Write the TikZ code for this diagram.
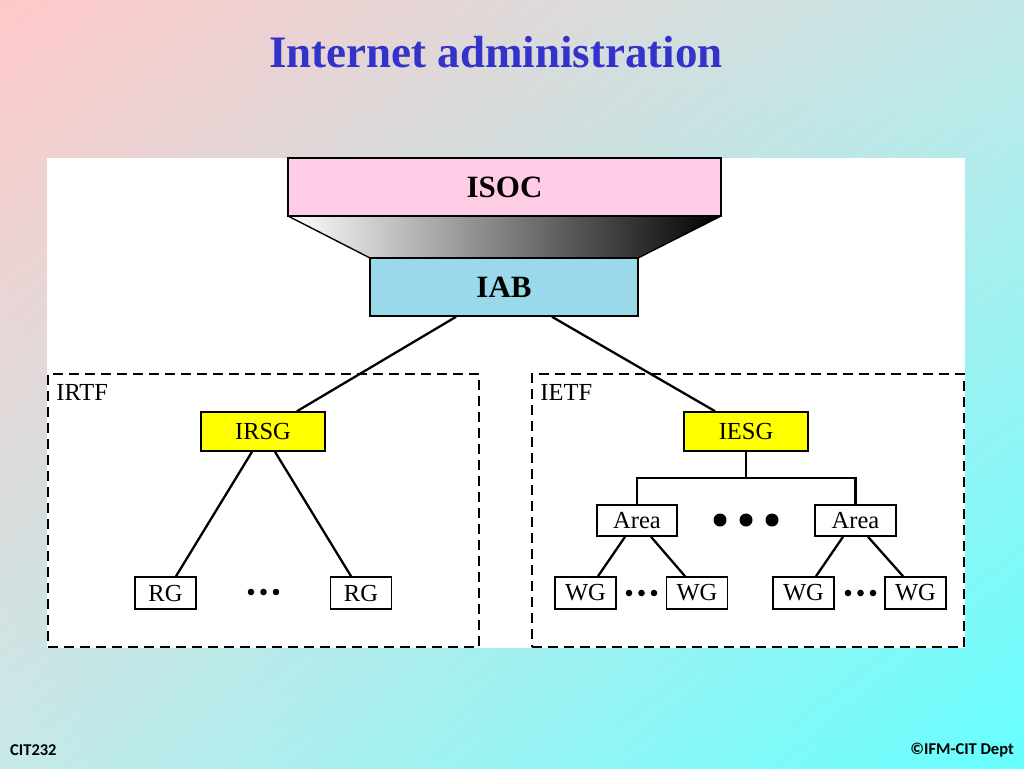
\documentclass[tikz,border=0pt]{standalone}
\usepackage{fontspec}
\usetikzlibrary{shadings}
\setmainfont{Liberation Serif}
\newfontfamily\footfont{Carlito}
\begin{document}
\begin{tikzpicture}[x=1pt,y=-1pt,
  box/.style={draw=black,line width=1.6pt,inner sep=0pt,font=\fontsize{24.5}{24.5}\selectfont},
  bigbox/.style={draw=black,line width=1.6pt,inner sep=0pt,font=\fontsize{31}{31}\selectfont\bfseries},
  conn/.style={line width=2.3pt,black},
  dashbox/.style={draw=black,line width=1.6pt,dash pattern=on 10pt off 6pt,inner sep=0pt},
  grplabel/.style={anchor=north west,inner sep=0pt,font=\fontsize{24.5}{24.5}\selectfont},
]
\definecolor{bgtl}{RGB}{255,200,200}
\definecolor{bgtr}{RGB}{195,232,232}
\definecolor{bgbl}{RGB}{200,232,232}
\definecolor{bgbr}{RGB}{102,255,255}
\definecolor{titleblue}{RGB}{51,51,204}
\definecolor{isocpink}{RGB}{255,204,230}
\definecolor{iabblue}{RGB}{153,217,234}
\definecolor{ylw}{RGB}{255,255,0}
\useasboundingbox (0,0) rectangle (1024,768);
\shade[upper left=bgtl,upper right=bgtr,lower left=bgbl,lower right=bgbr] (0,0) rectangle (1024,768);
% title
\node[text=titleblue,font=\fontsize{45}{45}\selectfont\bfseries] (title) at (496,52) {Internet administration};
% white panel
\fill[white] (47,158) rectangle (965,648);
% gradient trapezoid
\shade[left color=white,right color=black] (288,216) -- (721,216) -- (638,258) -- (370,258) -- cycle;
\draw[line width=1.4pt] (288,216) -- (370,258);
\draw[line width=1.4pt] (721,216) -- (638,258);
% top boxes
\node[bigbox,fill=isocpink,minimum width=433pt,minimum height=58pt] (ISOC) at (504.5,187) {ISOC};
\node[bigbox,fill=iabblue,minimum width=268pt,minimum height=58pt] (IAB) at (504,287) {IAB};
% groups
\node[dashbox,minimum width=431pt,minimum height=273pt] (IRTF) at (263.5,510.5) {};
\node[grplabel] (IRTFl) at ([xshift=9pt,yshift=-11pt]IRTF.north west) {IRTF};
\node[dashbox,minimum width=432pt,minimum height=273pt] (IETF) at (748,510.5) {};
\node[grplabel] (IETFl) at ([xshift=9pt,yshift=-11pt]IETF.north west) {IETF};
% second level
\node[box,fill=ylw,minimum width=124pt,minimum height=39pt] (IRSG) at (263,431.5) {IRSG};
\node[box,fill=ylw,minimum width=124pt,minimum height=39pt] (IESG) at (746,431.5) {IESG};
% RG
\node[box,fill=white,minimum width=61pt,minimum height=32pt] (RG1) at (165.5,593) {RG};
\node[box,fill=white,minimum width=61pt,minimum height=32pt] (RG2) at (361,593) {RG};
% Areas
\node[box,fill=white,minimum width=80pt,minimum height=31pt] (A1) at (637,520.5) {Area};
\node[box,fill=white,minimum width=81pt,minimum height=31pt] (A2) at (855.5,520.5) {Area};
% WGs
\node[box,fill=white,minimum width=61pt,minimum height=32pt] (WG1) at (585.5,593) {WG};
\node[box,fill=white,minimum width=61pt,minimum height=32pt] (WG2) at (697,593) {WG};
\node[box,fill=white,minimum width=61pt,minimum height=32pt] (WG3) at (803.5,593) {WG};
\node[box,fill=white,minimum width=61pt,minimum height=32pt] (WG4) at (915.5,593) {WG};
% connectors
\draw[conn] ([xshift=-48pt]IAB.south) -- ([xshift=34pt]IRSG.north);
\draw[conn] ([xshift=48pt]IAB.south) -- ([xshift=-31pt]IESG.north);
\draw[conn] ([xshift=-11pt]IRSG.south) -- ([xshift=10.5pt]RG1.north);
\draw[conn] ([xshift=12pt]IRSG.south) -- ([xshift=-10pt]RG2.north);
\coordinate (bus) at (746,478);
\draw[conn] (IESG.south) -- (bus);
\draw[conn] (A1.north) |- (bus) -| (A2.north);
\draw[conn] ([xshift=-12pt]A1.south) -- ([xshift=12.5pt]WG1.north);
\draw[conn] ([xshift=14pt]A1.south) -- ([xshift=-12pt]WG2.north);
\draw[conn] ([xshift=-12.5pt]A2.south) -- ([xshift=12.5pt]WG3.north);
\draw[conn] ([xshift=12.5pt]A2.south) -- ([xshift=-12.5pt]WG4.north);
% dots
\foreach \x in {251,263.5,276} \fill (\x,592) circle (3.3pt);
\foreach \x in {629,641.5,654} \fill (\x,593) circle (3.3pt);
\foreach \x in {848,860.5,873} \fill (\x,593) circle (3.3pt);
\foreach \x in {720,746,772} \fill (\x,520) circle (6.5pt);
% footer
\node[anchor=west,inner sep=0pt,font=\footfont\fontsize{16.5}{16.5}\selectfont\bfseries] (foot1) at (10,750) {CIT232};
\node[anchor=east,inner sep=0pt,font=\footfont\fontsize{16.5}{16.5}\selectfont\bfseries] (foot2) at (1014,750) {©IFM-CIT Dept};
\end{tikzpicture}
\end{document}
